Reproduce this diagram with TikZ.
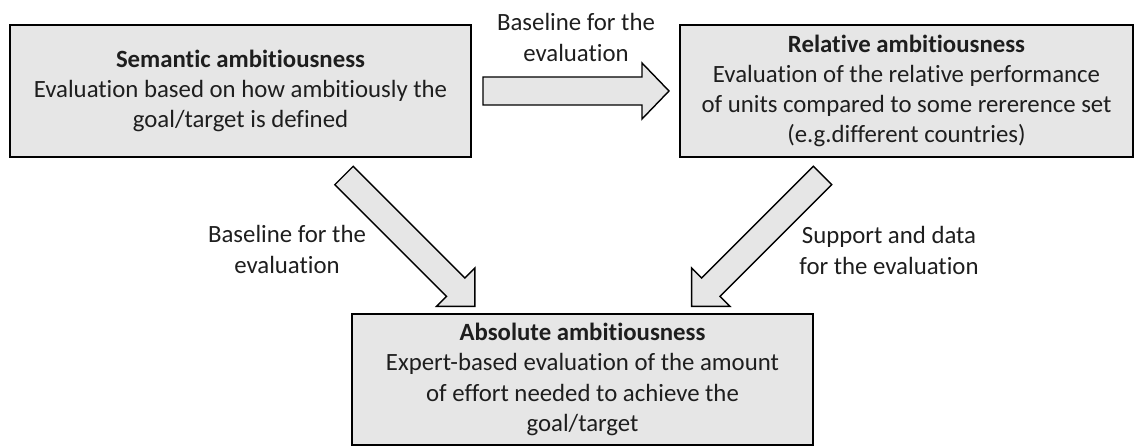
\documentclass[tikz,border=0pt]{standalone}
\usepackage{fontspec}
\setmainfont{Carlito}[RawFeature={-liga}]
\definecolor{boxfill}{RGB}{230,230,230}
\definecolor{txt}{RGB}{30,30,30}
\begin{document}
\begin{tikzpicture}[x=1pt,y=-1pt,
  box/.style={draw=black, line width=1.4pt, fill=boxfill, align=center, inner sep=0pt,
    font=\fontsize{24.8}{30.2}\selectfont, text=txt},
  lbl/.style={align=center, inner sep=0pt, font=\fontsize{24.8}{31}\selectfont, text=txt},
  barrow/.style={draw=black, line width=1.4pt, fill=boxfill, line join=miter}]
\useasboundingbox (0,0) rectangle (1135,446);
\node[box, minimum width=461pt, minimum height=132pt] (sem) at (240.5,91)
  {\textbf{Semantic ambitiousness}\\Evaluation based on how ambitiously the\\goal/target is defined};
\node[box, minimum width=453pt, minimum height=132pt] (rel) at (906.5,91)
  {\textbf{Relative ambitiousness}\\Evaluation of the relative performance\\of units compared to some rererence set\\(e.g.different countries)};
\node[box, minimum width=461pt, minimum height=131pt] (abs) at (582.5,379.5)
  {\textbf{Absolute ambitiousness}\\Expert-based evaluation of the amount\\of effort needed to achieve the\\goal/target};
% block arrows
\begin{scope}[shift={(483,91)}]
  \draw[barrow] (0,-14) -- (159,-14) -- (159,-28) -- (186,0) -- (159,28) -- (159,14) -- (0,14) -- cycle;
\end{scope}
\begin{scope}[shift={(344,175.5)}, rotate=-45]
  \draw[barrow] (0,-13) -- (158,-13) -- (158,-27) -- (185,0) -- (158,27) -- (158,13) -- (0,13) -- cycle;
\end{scope}
\begin{scope}[shift={(822.5,175.5)}, rotate=-135]
  \draw[barrow] (0,-13) -- (158,-13) -- (158,-27) -- (185,0) -- (158,27) -- (158,13) -- (0,13) -- cycle;
\end{scope}
\node[lbl] (l1) at (576,37) {Baseline for the\\evaluation};
\node[lbl] (l2) at (287,249) {Baseline for the\\evaluation};
\node[lbl] (l3) at (889,250) {Support and data\\for the evaluation};
\end{tikzpicture}
\end{document}
